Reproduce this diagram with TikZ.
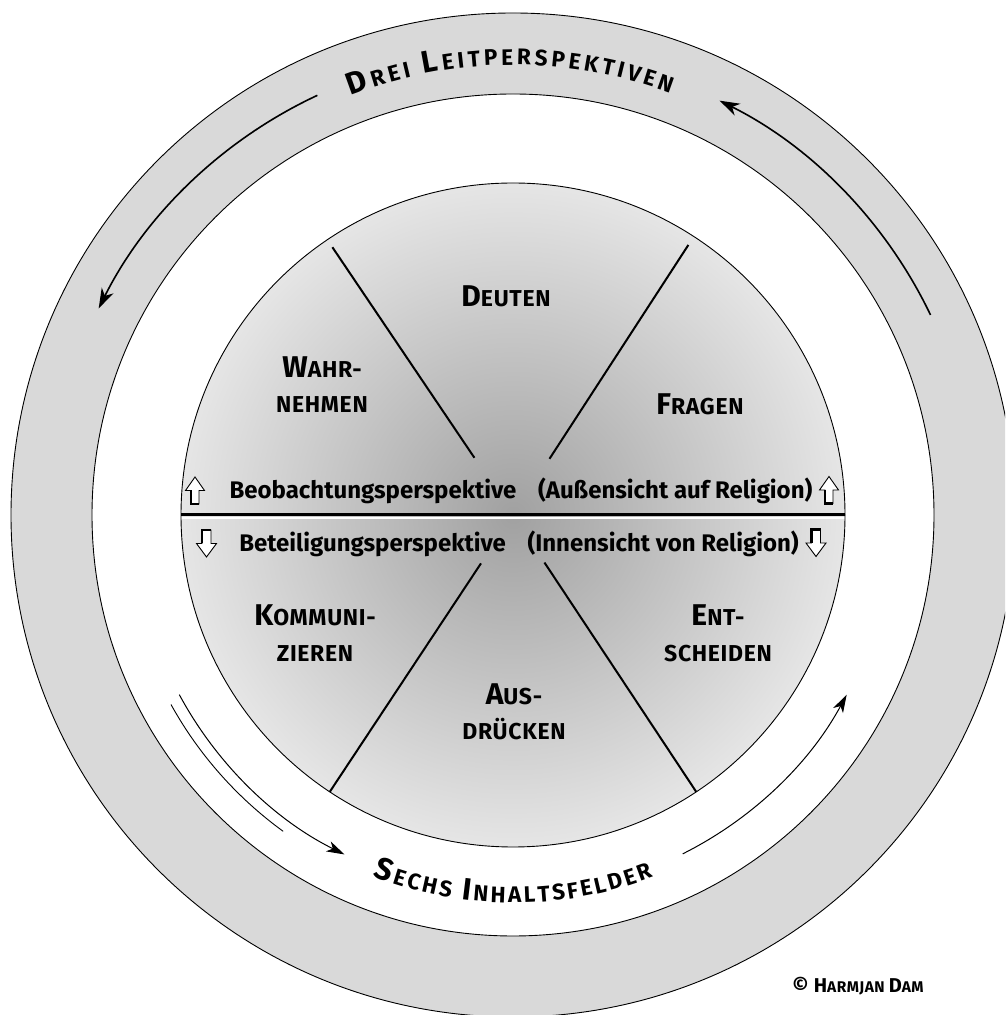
\documentclass[tikz,border=0pt]{standalone}
\usepackage{fontspec}
\setmainfont{Fira Sans}
\newfontfamily\labfont{Fira Sans}[LetterSpace=3]
\usetikzlibrary{decorations.text,arrows.meta,calc}
\definecolor{ringgray}{gray}{0.85}
\definecolor{discedge}{gray}{0.9}
\definecolor{disccenter}{gray}{0.63}
\newcommand\capA{\fontsize{30}{31}\selectfont}
\newcommand\capB{\fontsize{23}{31}\selectfont}
\newcommand\ringA{\bfseries\fontsize{31}{31}\selectfont}
\newcommand\ringB{\bfseries\fontsize{22.5}{31}\selectfont}
\newcommand\cpA{\fontsize{20}{21}\selectfont}
\newcommand\cpB{\fontsize{15.5}{21}\selectfont}
\tikzset{
  lab/.style={anchor=base, inner sep=0pt, font=\labfont\bfseries},
  prow/.style={anchor=base, inner sep=0pt, font=\bfseries\fontsize{24}{26}\selectfont},
  spoke/.style={line width=2pt},
  ringarrow/.style={line width=1.6pt, -{Stealth[length=20pt,width=13pt,inset=6pt]}},
  gaparrow/.style={line width=1pt, -{Stealth[length=18pt,width=11pt,inset=5pt]}},
  thinline/.style={line width=0.9pt},
  uparr/.pic={
    \draw[fill=white, line width=0.9pt, line join=miter] (-9.5,0) -- (0,13.5) -- (9.5,0) -- (4,0) -- (4,-13.5) -- (-4,-13.5) -- (-4,0) -- cycle;
    \draw[line width=2.4pt] (-4,0) -- (-4,-13.5) -- (4,-13.5);
  },
  downarr/.pic={
    \draw[fill=white, line width=0.9pt, line join=miter] (-10,0) -- (0,-13.5) -- (10,0) -- (4.5,0) -- (4.5,13.5) -- (-4.5,13.5) -- (-4.5,0) -- cycle;
    \draw[line width=2.4pt] (-4.5,0) -- (-4.5,13.5) -- (4.5,13.5);
  },
}
\begin{document}
\begin{tikzpicture}[x=1pt,y=1pt]
\useasboundingbox (0,0) rectangle (1005,1015);
\clip (0,0) rectangle (1005,1015);
\fill[white] (0,0) rectangle (1005,1015);
\coordinate (C) at (513,500);
% outer ring
\fill[ringgray, even odd rule] (C) circle[radius=502] (C) circle[radius=421];
\draw[thinline] (C) circle[radius=502];
\draw[thinline] (C) circle[radius=421];
% inner disc
\shade[inner color=disccenter, outer color=discedge] (C) circle[radius=332];
\begin{scope}
  \clip (C) circle[radius=332];
  \draw[line width=3pt] (170,500) -- (860,500);
  \draw[white, line width=2.2pt] (170,497.2) -- (860,497.2);
\end{scope}
\draw[thinline] (C) circle[radius=332];
% spokes
\draw[spoke] ($(C)+(57:67)$) -- ($(C)+(57:322)$);
\draw[spoke] ($(C)+(124:69)$) -- ($(C)+(124:323)$);
\draw[spoke] ($(C)+(236.5:58)$) -- ($(C)+(236.5:332)$);
\draw[spoke] ($(C)+(303.5:57)$) -- ($(C)+(303.5:332)$);
% segment labels
\node[lab] (deuten) at (506,708) {{\capA D}{\capB EUTEN}};
\node[lab] (wahr1) at (322,637) {{\capA W}{\capB AHR-}};
\node[lab] (wahr2) at (322,602) {{\capB NEHMEN}};
\node[lab] (fragen) at (700,600) {{\capA F}{\capB RAGEN}};
\node[lab] (komm1) at (315,389) {{\capA K}{\capB OMMUNI-}};
\node[lab] (komm2) at (315,353) {{\capB ZIEREN}};
\node[lab] (ent1) at (718,389) {{\capA E}{\capB NT-}};
\node[lab] (ent2) at (718,353) {{\capB SCHEIDEN}};
\node[lab] (aus1) at (514,310) {{\capA A}{\capB US-}};
\node[lab] (aus2) at (514,275) {{\capB DRÜCKEN}};
% perspective rows
\node[prow] (beob) at (521,516) {Beobachtungsperspektive\hspace{0.9em}(Außensicht auf Religion)};
\node[prow] (beteil) at (519,463) {Beteiligungsperspektive\hspace{0.9em}(Innensicht von Religion)};
\pic at (195,524.5) {uparr};
\pic at (829,525) {uparr};
\pic at (206.5,471.5) {downarr};
\pic at (816,472) {downarr};
% ring texts
\path[decorate, decoration={text along path, text align={fit to path},
  text={|\ringA|D|\ringB|REI |\ringA|L|\ringB|EITPERSPEKTIVEN}}]
  (C) ++(111.1:450) arc[start angle=111.1, end angle=69.5, radius=450];
\path[decorate, decoration={text along path, text align={fit to path},
  text={|\ringA|S|\ringB|ECHS |\ringA|I|\ringB|NHALTSFELDER}}]
  (C) ++(248.8:388) arc[start angle=248.8, end angle=291.2, radius=388];
% ring arrows
\draw[ringarrow] (C) ++(115:463) arc[start angle=115, end angle=153.5, radius=463];
\draw[ringarrow] (C) ++(25.6:463) arc[start angle=25.6, end angle=63.5, radius=463];
\draw[gaparrow] (C) ++(208.3:379) arc[start angle=208.3, end angle=243.6, radius=379];
\draw[thinline] (C) ++(209:391) arc[start angle=209, end angle=234, radius=391];
\draw[gaparrow] (C) ++(296.6:379) arc[start angle=296.6, end angle=331.7, radius=379];
% copyright
\node[lab] (copyr) at (858,22) {{\cpA © H}{\cpB ARMJAN }{\cpA D}{\cpB AM}};
\end{tikzpicture}
\end{document}
